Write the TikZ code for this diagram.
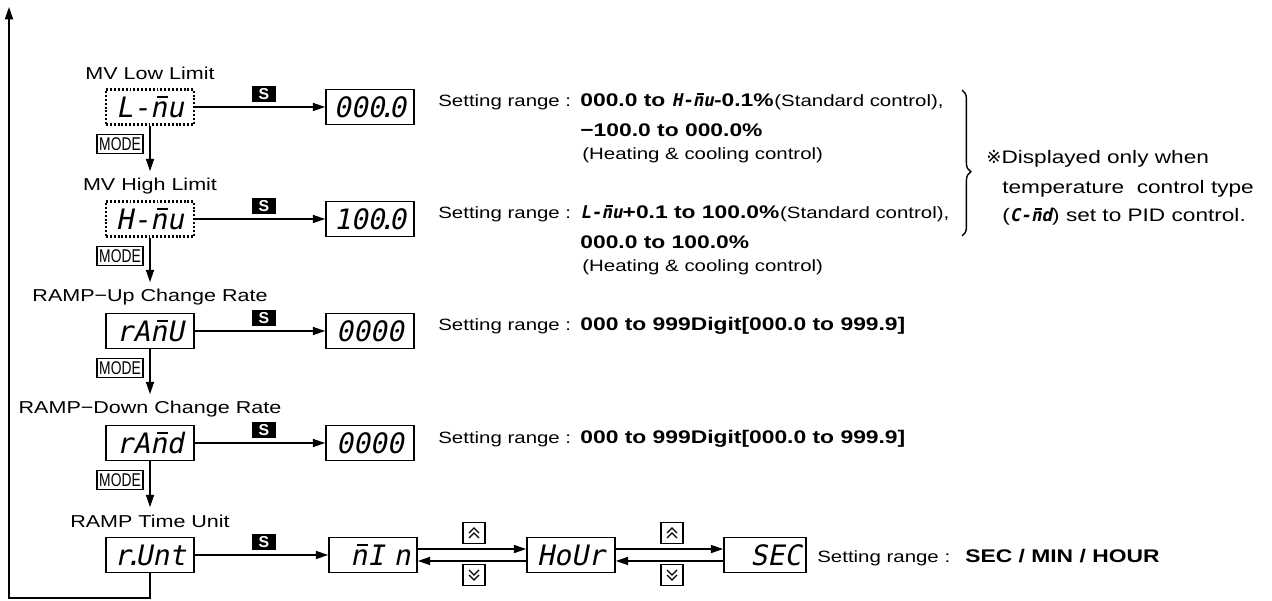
\documentclass[tikz,border=0pt]{standalone}
\usepackage{fontspec}
\setmainfont{Liberation Sans}[FakeStretch=1.25]
\newfontfamily\plainsans{Liberation Sans}
\newfontfamily\condsans{Liberation Sans}[FakeStretch=0.75]
\newfontfamily\segfont{DejaVu Sans Mono}[FakeSlant=0.2]
\newfontfamily\symfont{DejaVu Sans}
\usepackage{tikz}
\usetikzlibrary{positioning,arrows.meta,calc,decorations.pathreplacing}
\newcommand\segb{\segfont\bfseries}
\newcommand\dotseg{\kern-.22em.\kern-.22em}
\newcommand\ovn{\rlap{\kern.24em\rule[.7em]{.4em}{.07em}}n}
\tikzset{
    lcd/.style={
        rectangle,
        draw,
        line width=1pt,
        minimum width=1.76cm,
        minimum height=0.7cm,
        inner sep=0pt,
        font=\segfont\fontsize{16}{16}\selectfont
    },
    lcddot/.style={lcd, line width=1.2pt, dash pattern=on 1.1pt off 1.1pt},
    skey/.style={
        rectangle,
        fill=black,
        text=white,
        minimum width=0.5cm,
        minimum height=0.32cm,
        inner sep=0pt,
        font=\plainsans\bfseries\fontsize{9}{9}\selectfont
    },
    modekey/.style={
        rectangle,
        draw,
        line width=0.6pt,
        minimum width=0.92cm,
        minimum height=0.38cm,
        inner sep=0pt,
        font=\condsans\fontsize{10.5}{10.5}\selectfont
    },
    arrkey/.style={rectangle, draw, line width=0.6pt, minimum width=0.44cm, minimum height=0.42cm, inner sep=0pt},
    partitle/.style={anchor=base, inner sep=1pt, font=\fontsize{9.8}{12}\selectfont},
    setrange/.style={anchor=base west, inner sep=0pt, font=\fontsize{9.3}{11}\selectfont},
    setbold/.style={anchor=base west, inner sep=0pt, font=\fontsize{10.4}{12}\selectfont\bfseries},
    notetext/.style={anchor=base west, inner sep=0pt, font=\fontsize{10.3}{12}\selectfont},
    arrow/.style={-{Triangle[length=7pt,width=4.6pt]}, line width=0.8pt}
}

\begin{document}
\begin{tikzpicture}[x=0.02cm, y=-0.02cm]
    \useasboundingbox (0,0) rectangle (1272,601);

    % Parametri a sinistra
    \node[partitle] (t1) at (150,80) {MV Low Limit};
    \node[lcddot] (lmv) at (150,107) {L-\ovn u};
    \node[partitle] (t2) at (150,191) {MV High Limit};
    \node[lcddot] (hmv) at (150,219) {H-\ovn u};
    \node[partitle] (t3) at (150,302) {RAMP−Up Change Rate};
    \node[lcd] (rup) at (150,331) {rA\ovn U};
    \node[partitle] (t4) at (150,414) {RAMP−Down Change Rate};
    \node[lcd] (rdn) at (150,443) {rA\ovn d};
    \node[partitle] (t5) at (150,527) {RAMP Time Unit};
    \node[lcd] (runt) at (150,555) {r\dotseg Unt};

    % Display dei valori
    \node[lcd] (d1) at (370,107) {000\dotseg 0};
    \node[lcd] (d2) at (370,219) {100\dotseg 0};
    \node[lcd] (d3) at (370,331) {0000};
    \node[lcd] (d4) at (370,443) {0000};
    \node[lcd, text width=1.5cm, align=right] (dmin) at (373,555) {\ovn I n};
    \node[lcd] (dhour) at (571,555) {HoUr};
    \node[lcd, minimum width=1.64cm, text width=1.45cm, align=right] (dsec) at (765,555) {SEC};

    % Tasti S e MODE
    \foreach \y [count=\i] in {94,206,318,430,542}
        \node[skey] (s\i) at (264,\y) {S};
    \foreach \y [count=\i] in {144,256,368,480}
        \node[modekey] (m\i) at (120,\y) {MODE};

    % Tasti freccia
    \node[arrkey] (up1) at (474,533) {};
    \node[arrkey] (dw1) at (474,575) {};
    \node[arrkey] (up2) at (672,533) {};
    \node[arrkey] (dw2) at (672,575) {};
    \foreach \k in {up1,up2}
        {
        \draw[line width=0.7pt] ($(\k)+(-5,0)$) -- ++(5,-5) -- ++(5,5);
        \draw[line width=0.7pt] ($(\k)+(-5,5)$) -- ++(5,-5) -- ++(5,5);
        }
    \foreach \k in {dw1,dw2}
        {
        \draw[line width=0.7pt] ($(\k)+(-5,-5)$) -- ++(5,5) -- ++(5,-5);
        \draw[line width=0.7pt] ($(\k)+(-5,0)$) -- ++(5,5) -- ++(5,-5);
        }

    % Frecce
    \draw[arrow] (lmv) -- (d1);
    \draw[arrow] (hmv) -- (d2);
    \draw[arrow] (rup) -- (d3);
    \draw[arrow] (rdn) -- (d4);
    \draw[arrow] (runt) -- (dmin);
    \draw[arrow, shorten >=3pt] (lmv) -- (t2);
    \draw[arrow, shorten >=3pt] (hmv) -- (t3);
    \draw[arrow, shorten >=3pt] (rup) -- (t4);
    \draw[arrow, shorten >=3pt] (rdn) -- (t5);
    \draw[arrow] ([yshift=3.4pt]dmin.east) -- ([yshift=3.4pt]dhour.west);
    \draw[arrow] ([yshift=-3.4pt]dhour.west) -- ([yshift=-3.4pt]dmin.east);
    \draw[arrow] ([yshift=3.4pt]dhour.east) -- ([yshift=3.4pt]dsec.west);
    \draw[arrow] ([yshift=-3.4pt]dsec.west) -- ([yshift=-3.4pt]dhour.east);

    % Ritorno all'inizio
    \coordinate (top) at (9,7);
    \coordinate (bl) at (9,598);
    \draw[arrow] (runt.south) |- (bl) -- (top);

    % Campi di impostazione
    \node[setrange] (r1) at (438,107) {Setting range :};
    \node[setbold] (r1a) at (580,107) {000.0 to {\segb\fontsize{10}{10}\selectfont H-\ovn u}-0.1\%};
    \node[setrange] (r1s) at (r1a.base east) {(Standard control),};
    \node[setbold] (r1b) at (580,137) {−100.0 to 000.0\%};
    \node[setrange] (r1c) at (582,160) {(Heating \& cooling control)};

    \node[setrange] (r2) at (438,219) {Setting range :};
    \node[setbold] (r2a) at (580,219) {{\segb\fontsize{10}{10}\selectfont L-\ovn u}+0.1 to 100.0\%};
    \node[setrange] (r2s) at (r2a.base east) {(Standard control),};
    \node[setbold] (r2b) at (580,249) {000.0 to 100.0\%};
    \node[setrange] (r2c) at (582,272) {(Heating \& cooling control)};

    \node[setrange] (r3) at (438,331) {Setting range :};
    \node[setbold] (r3a) at (580,331) {000 to 999Digit[000.0 to 999.9]};
    \node[setrange] (r4) at (438,443) {Setting range :};
    \node[setbold] (r4a) at (580,443) {000 to 999Digit[000.0 to 999.9]};
    \node[setrange] (r5) at (817,562) {Setting range :};
    \node[setbold] (r5a) at (965,562) {SEC / MIN / HOUR};

    % Nota con parentesi graffa
    \draw[decorate, decoration={brace, amplitude=5pt, aspect=0.56}, line width=0.8pt] (962,90) -- (962,236);
    \node[notetext] (n1) at (986,164) {{\symfont ※}Displayed only when};
    \node[notetext] (n2) at (1002,194) {temperature\ \ control type};
    \node[notetext] (n3) at (1002,222) {({\segb\fontsize{10}{10}\selectfont C-\ovn d}) set to PID control.};

\end{tikzpicture}
\end{document}
